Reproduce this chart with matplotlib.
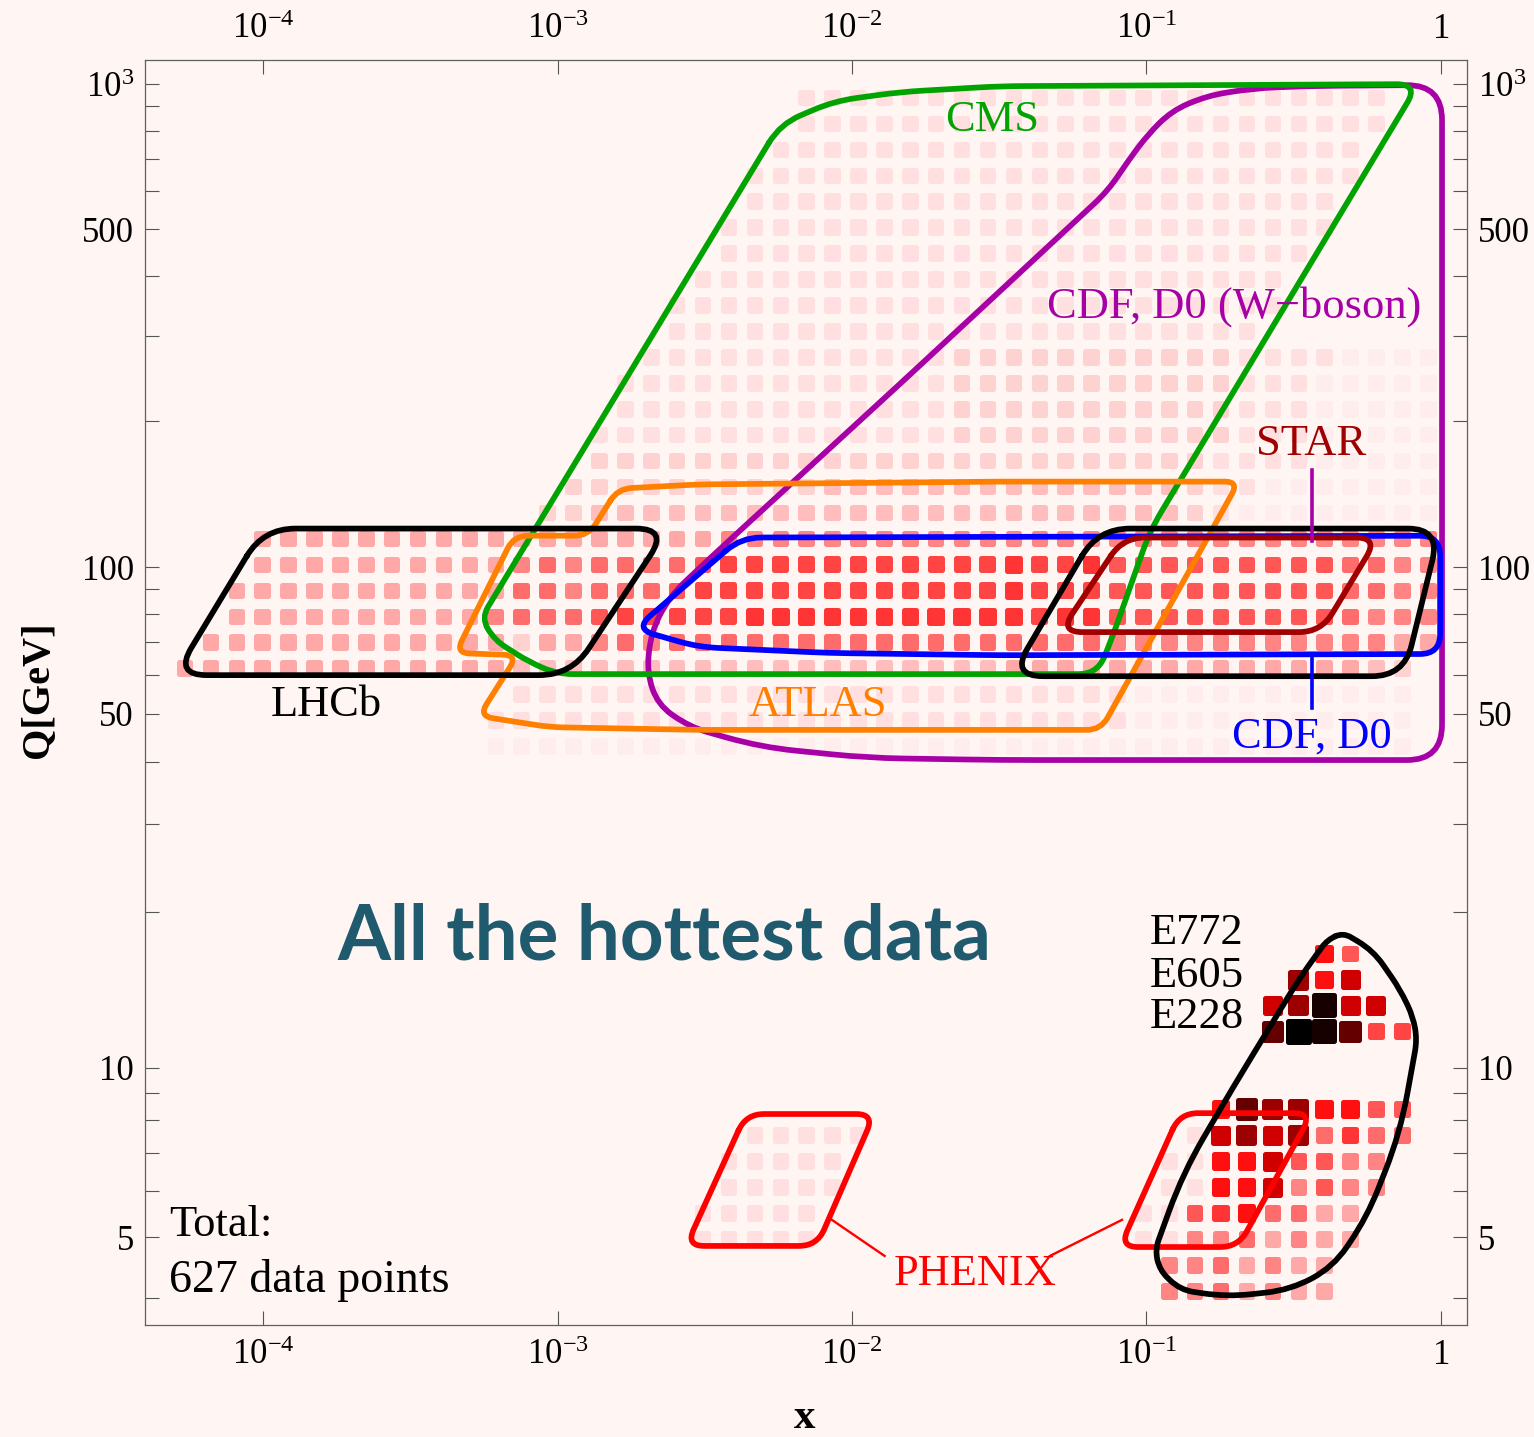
import numpy as np
import matplotlib
matplotlib.use("Agg")
import matplotlib.pyplot as plt
from matplotlib.path import Path
from matplotlib.patches import PathPatch
from matplotlib.ticker import FixedLocator, NullLocator

plt.rcParams['font.family'] = ['Liberation Serif', 'DejaVu Serif']
plt.rcParams['mathtext.fontset'] = 'custom'
plt.rcParams['mathtext.rm'] = 'Liberation Serif'
plt.rcParams['mathtext.it'] = 'Liberation Serif:italic'

BG = '#FFF5F3'

# density grid: column j at log10(x) = X0 + j*DX, row r at log10(Q-1) = T0 + r*DT
X0, DX = -4.268, 0.0880
T0, DT = 0.491, 0.05393

# (row, first column, last column, intensity level)
cells = [
    (46, 24, 46, '2'), (45, 24, 46, '2'), (44, 23, 45, '2'), (43, 22, 45, '2'),
    (42, 22, 44, '2'), (41, 21, 44, '2'), (40, 21, 43, '2'), (39, 20, 42, '2'),
    (38, 19, 42, '2'), (37, 19, 41, '2'),
    (36, 18, 29, '2'), (36, 30, 40, '3'), (36, 41, 44, '2'), (36, 45, 48, '1'),
    (35, 17, 29, '2'), (35, 30, 40, '3'), (35, 41, 43, '2'), (35, 44, 48, '1'),
    (34, 17, 29, '2'), (34, 30, 40, '3'), (34, 41, 43, '2'), (34, 44, 48, '1'),
    (33, 16, 29, '2'), (33, 30, 40, '3'), (33, 41, 43, '2'), (33, 44, 48, '1'),
    (32, 16, 39, '3'), (32, 40, 43, '2'), (32, 44, 48, '1'),
    (31, 15, 24, '3'), (31, 25, 38, '4'), (31, 39, 39, '3'), (31, 40, 41, '2'), (31, 42, 48, '1'),
    (30, 14, 15, '3'), (30, 16, 38, '4'), (30, 39, 39, '3'), (30, 40, 40, '2'), (30, 41, 48, '1'),
    (29, 3, 20, '5'), (29, 21, 48, '6'),
    (28, 3, 12, '5'), (28, 13, 13, '6'), (28, 14, 14, '7'), (28, 15, 15, '6'), (28, 16, 19, '7'),
    (28, 20, 20, '8'), (28, 21, 31, '9'), (28, 32, 32, 'a'), (28, 33, 34, '9'), (28, 35, 35, 'a'),
    (28, 36, 44, '8'), (28, 45, 46, '7'), (28, 47, 48, '6'),
    (27, 2, 12, '5'), (27, 13, 14, '7'), (27, 15, 15, '6'), (27, 16, 18, '7'), (27, 19, 19, '8'),
    (27, 20, 31, '9'), (27, 32, 32, 'a'), (27, 33, 35, '9'), (27, 36, 44, '8'), (27, 45, 46, '7'),
    (27, 47, 48, '6'),
    (26, 2, 11, '5'), (26, 12, 12, '6'), (26, 13, 15, '7'), (26, 16, 16, '8'), (26, 17, 21, '9'),
    (26, 22, 32, 'a'), (26, 33, 33, '9'), (26, 34, 35, 'a'), (26, 36, 44, '8'), (26, 45, 45, '7'),
    (26, 46, 48, '6'),
    (25, 1, 12, '5'), (25, 13, 13, '3'), (25, 14, 15, '5'), (25, 16, 16, '6'), (25, 17, 17, '7'),
    (25, 18, 18, '6'), (25, 19, 35, '7'), (25, 36, 46, '6'), (25, 47, 48, '5'),
    (24, 0, 12, '5'), (24, 13, 31, '4'), (24, 32, 45, '5'), (24, 46, 46, '4'), (24, 47, 47, '3'),
    (23, 13, 36, '2'), (23, 37, 47, '1'),
    (22, 12, 36, '2'), (22, 37, 47, '1'),
    (21, 12, 47, '1'),
    (13, 44, 44, 'b'), (13, 45, 45, '8'),
    (12, 43, 43, 'd'), (12, 44, 44, 'b'), (12, 45, 45, 'c'),
    (11, 42, 42, 'c'), (11, 43, 43, 'd'), (11, 44, 44, 'g'), (11, 45, 46, 'c'),
    (10, 42, 42, 'e'), (10, 43, 43, 'h'), (10, 44, 44, 'g'), (10, 45, 45, 'e'), (10, 46, 47, '9'),
    (7, 40, 40, 'b'), (7, 41, 41, 'e'), (7, 42, 43, 'd'), (7, 44, 45, 'b'), (7, 46, 47, '8'),
    (6, 22, 26, '2'), (6, 39, 39, '2'), (6, 40, 40, 'c'), (6, 41, 41, 'd'), (6, 42, 42, 'c'),
    (6, 43, 43, 'd'), (6, 44, 44, '7'), (6, 45, 45, 'a'), (6, 46, 47, '7'),
    (5, 21, 25, '2'), (5, 38, 39, '2'), (5, 40, 41, 'b'), (5, 42, 42, 'c'), (5, 43, 44, '8'),
    (5, 45, 46, '6'),
    (4, 21, 25, '2'), (4, 38, 39, '2'), (4, 40, 41, 'b'), (4, 42, 42, 'c'), (4, 43, 43, '6'),
    (4, 44, 44, '8'), (4, 45, 46, '6'),
    (3, 20, 24, '2'), (3, 37, 38, '2'), (3, 39, 39, '8'), (3, 40, 40, 'a'), (3, 41, 41, 'b'),
    (3, 42, 43, '7'), (3, 44, 45, '5'),
    (2, 20, 24, '2'), (2, 37, 38, '2'), (2, 39, 40, '6'), (2, 41, 41, '7'), (2, 42, 42, '5'),
    (2, 43, 43, '6'), (2, 44, 45, '5'),
    (1, 38, 39, '6'), (1, 40, 40, '7'), (1, 41, 41, '5'), (1, 42, 42, '6'), (1, 43, 44, '5'),
    (0, 38, 39, '6'), (0, 40, 40, '7'), (0, 41, 41, '5'), (0, 42, 42, '6'), (0, 43, 44, '5'),
]

level_colors = {
    '1': '#FFEDED', '2': '#FFDFDF', '3': '#FFD2D2', '4': '#FFBDBD', '5': '#FFA8A8',
    '6': '#FF8585', '7': '#FF6C6C', '8': '#FF5656', '9': '#FF4444', 'a': '#FF3434',
    'b': '#FF1010', 'c': '#D00000', 'd': '#9C0000', 'e': '#640000', 'f': '#400000',
    'g': '#160000', 'h': '#000000',
}
# full side length of each square, in pixels
level_side = {
    '1': 16.5, '2': 16.5, '3': 16.5, '4': 16.5, '5': 16.5, '6': 16.5, '7': 16.5,
    '8': 16.5, '9': 17, 'a': 17.5, 'b': 18.5, 'c': 20, 'd': 21, 'e': 22.5,
    'f': 23.5, 'g': 25, 'h': 25.5,
}

# region outlines, (x, Q) points
cms_outline = [(5.7e-3, 826), (8.7e-3, 922), (1.46e-2, 963), (3.2e-2, 990), (0.84, 1000),
               (0.103, 119), (0.076, 70.8), (0.068, 60.3), (1.0e-3, 60.3), (8.0e-4, 63.8),
               (6.1e-4, 70.8), (5.5e-4, 78.6)]
atlas_outline = [(1.6e-3, 145), (3.0e-3, 148), (3.2e-2, 150), (0.206, 150), (0.070, 46.4),
                 (3.0e-3, 46.4), (9.4e-4, 47.0), (5.4e-4, 49.5), (7.3e-4, 65.9), (4.5e-4, 66.6),
                 (7.1e-4, 116), (1.27e-3, 116)]
lhcb_outline = [(1.0e-4, 120), (2.37e-3, 120), (1.11e-3, 60), (5.0e-5, 60)]
fixed_target_outline = [(0.0685, 120), (0.995, 120), (0.75, 59.7), (0.0347, 59.7)]
cdf_outline = [(4.2e-3, 115), (0.995, 116), (0.995, 66.3), (3.18e-2, 65.9), (8.4e-3, 66.6),
               (3.0e-3, 68.5), (1.83e-3, 74.6)]
wboson_outline = [(0.36, 991), (1.01, 996), (1.01, 40.3), (3.18e-2, 40.3), (1.13e-2, 40.7),
                  (4.9e-3, 42.8), (2.81e-3, 47.0), (2.19e-3, 52.2), (2.01e-3, 60.6),
                  (2.07e-3, 73.2), (2.39e-3, 86.8), (3.24e-3, 103.4), (1.50e-2, 243),
                  (7.4e-2, 600), (8.7e-2, 695), (0.101, 785), (0.122, 880), (0.160, 945),
                  (0.230, 980)]
star_outline = [(0.0833, 115), (0.612, 115), (0.392, 73.5), (0.0509, 73.5)]
phenix_left_outline = [(4.36e-3, 8.22), (1.19e-2, 8.22), (7.6e-3, 4.84), (2.73e-3, 4.84)]
phenix_right_outline = [(0.130, 8.25), (0.365, 8.25), (0.205, 4.82), (0.0813, 4.82)]
e_outline = [(0.466, 18.2), (0.589, 16.8), (0.728, 14.1), (0.805, 12.5), (0.831, 11.3),
             (0.728, 7.59), (0.562, 5.41), (0.431, 4.47), (0.308, 4.11), (0.188, 4.01),
             (0.130, 4.11), (0.111, 4.42), (0.107, 4.77), (0.133, 6.44), (0.197, 9.21),
             (0.333, 14.9), (0.411, 17.6)]

x_ticks = [1e-4, 1e-3, 1e-2, 1e-1, 1]
x_ticklabels = ['$10^{-4}$', '$10^{-3}$', '$10^{-2}$', '$10^{-1}$', '$1$']
q_ticks = [5, 10, 50, 100, 500, 1000]
q_ticklabels = ['5', '10', '50', '100', '500', '$10^{3}$']
q_minor = [4, 6, 7, 8, 9, 20, 30, 40, 60, 70, 80, 90, 200, 300, 400, 600, 700, 800, 900]


def q_fwd(q):
    return np.log10(np.clip(np.asarray(q, float) - 1, 1e-6, None))


def q_inv(t):
    return 10 ** np.asarray(t, float) + 1


def rounded_outline(ax, pts, radius):
    # round every corner by radius (display pixels), via quadratic curves
    disp = ax.transData.transform(np.asarray(pts, float))
    n = len(disp)
    verts, codes = [], []
    for i in range(n):
        p_prev, p, p_next = disp[i - 1], disp[i], disp[(i + 1) % n]
        d1, d2 = p_prev - p, p_next - p
        l1, l2 = np.hypot(*d1), np.hypot(*d2)
        r = min(radius, 0.5 * l1, 0.5 * l2)
        verts += [p + d1 / l1 * r, p, p + d2 / l2 * r]
        codes += [Path.MOVETO if i == 0 else Path.LINETO, Path.CURVE3, Path.CURVE3]
    verts.append(verts[0])
    codes.append(Path.LINETO)
    return Path(ax.transData.inverted().transform(np.array(verts)), codes)


width_px, height_px, dpi = 1534, 1437, 100
fig = plt.figure(figsize=(width_px / dpi, height_px / dpi), dpi=dpi, facecolor=BG)
ax = fig.add_axes([145 / width_px, 1 - 1325 / height_px, 1322 / width_px, 1265 / height_px])
ax.set_facecolor(BG)
ax.set_xscale('log')
ax.set_yscale('function', functions=(q_fwd, q_inv))
ax.set_xlim(3.96e-5, 1.228)
ax.set_ylim(3.63, 1122)

# density squares
px2pt = 72 / dpi
edge_px = 5
xs, qs, cols, sizes = [], [], [], []
for row, j0, j1, lev in cells:
    for j in range(j0, j1 + 1):
        xs.append(10 ** (X0 + DX * j))
        qs.append(q_inv(T0 + DT * row))
        cols.append(level_colors[lev])
        sizes.append(((level_side[lev] - edge_px) * px2pt) ** 2)
ax.scatter(xs, qs, s=sizes, marker='s', c=cols, edgecolors=cols,
           linewidths=edge_px * px2pt, joinstyle='round', zorder=1)

# region outlines
outlines = [
    (wboson_outline, '#A600A6', 35),
    (cms_outline, '#00A300', 22),
    (atlas_outline, '#FF8000', 14),
    (cdf_outline, '#0000FF', 20),
    (lhcb_outline, 'black', 32),
    (fixed_target_outline, 'black', 32),
    (star_outline, '#A00000', 22),
    (phenix_left_outline, '#FF0000', 18),
    (phenix_right_outline, '#FF0000', 18),
    (e_outline, 'black', 40),
]
for pts, color, rad in outlines:
    ax.add_patch(PathPatch(rounded_outline(ax, pts, rad), fill=False, ec=color,
                           lw=4.1, joinstyle='round', capstyle='round', zorder=3))

# label pointers
ax.plot([0.364, 0.364], [113, 158.5], color='#A600A6', lw=2.6, zorder=3)
ax.plot([0.364, 0.364], [51.4, 65.9], color='#0000FF', lw=2.6, zorder=3)
ax.plot([8.54e-3, 1.29e-2], [5.35, 4.66], color='#FF0000', lw=1.7, zorder=3)
ax.plot([0.0826, 0.047], [5.35, 4.66], color='#FF0000', lw=1.7, zorder=3)

fs = 32
lab = dict(fontsize=fs, ha='center', va='center', zorder=4)
ax.text(0.0299, 842, 'CMS', color='#00A300', **lab)
ax.text(0.198, 345, 'CDF, D0 (W\u2212boson)', color='#A600A6', **lab)
ax.text(0.3625, 179, 'STAR', color='#A00000', **lab)
ax.text(0.364, 44.9, 'CDF, D0', color='#0000FF', **lab)
ax.text(1.64e-4, 52.2, 'LHCb', color='black', **lab)
ax.text(7.66e-3, 52.2, 'ATLAS', color='#FF8000', **lab)
ax.text(0.0262, 4.36, 'PHENIX', color='#FF0000', **lab)
for name, q in [('E772', 18.2), ('E605', 15.0), ('E228', 12.5)]:
    ax.text(0.1028, q, name, color='black', fontsize=fs, ha='left', va='center', zorder=4)
ax.text(4.78e-5, 5.24, 'Total:', color='black', fontsize=fs, ha='left', va='center', zorder=4)
ax.text(4.78e-5, 4.26, '627 data points', color='black', fontsize=33, ha='left', va='center', zorder=4)
ax.text(2.30e-3, 17.8, 'All the hottest data', color='#1F5A6E', fontsize=55,
        family=['Lato', 'DejaVu Sans'], fontweight='bold', ha='center', va='center', zorder=4)

# axes, ticks
ax.xaxis.set_major_locator(FixedLocator(x_ticks))
ax.xaxis.set_minor_locator(NullLocator())
ax.set_xticklabels(x_ticklabels)
ax.yaxis.set_major_locator(FixedLocator(q_ticks))
ax.yaxis.set_minor_locator(FixedLocator(q_minor))
ax.set_yticklabels(q_ticklabels)
ax.yaxis.set_minor_formatter(plt.NullFormatter())
ax.tick_params(which='both', direction='in', length=10, width=0.8, color='#555555',
               top=True, right=True, labeltop=True, labelright=True, labelsize=25)
ax.tick_params(axis='x', pad=10)
ax.tick_params(axis='y', pad=8)
for sp in ax.spines.values():
    sp.set_color('#606060')
    sp.set_linewidth(0.9)

fig.text(38 / width_px, 1 - 690 / height_px, 'Q[GeV]', rotation=90, fontsize=29,
         fontweight='bold', ha='center', va='center')
fig.text(805 / width_px, 1 - 1418 / height_px, 'x', fontsize=31, fontweight='bold',
         ha='center', va='center')

fig.savefig('out.png', dpi=dpi, facecolor=BG)
plt.close(fig)
